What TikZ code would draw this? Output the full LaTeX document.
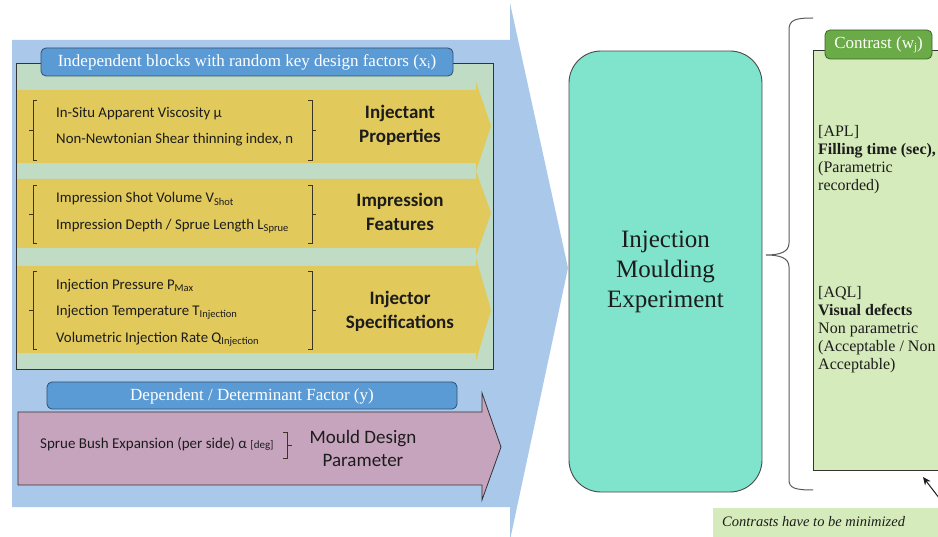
\documentclass[tikz,border=0pt]{standalone}
\usepackage{fontspec}
\setmainfont{Liberation Serif}
\newfontfamily\serifbody{Liberation Serif}
\newfontfamily\sansbody{Carlito}
\usetikzlibrary{arrows.meta}

\definecolor{bigblue}{HTML}{A9C8EA}
\definecolor{sage}{HTML}{C0DCC4}
\definecolor{ochre}{HTML}{E1C95C}
\definecolor{tabblue}{HTML}{5B9BD5}
\definecolor{tabedge}{HTML}{2F4F6F}
\definecolor{mauve}{HTML}{C6A4BE}
\definecolor{teal}{HTML}{80E4CC}
\definecolor{lime}{HTML}{D6EBBB}
\definecolor{leaf}{HTML}{6AAA47}
\definecolor{leafedge}{HTML}{3A6425}
\definecolor{ink}{HTML}{1C1C1C}
\definecolor{bracketink}{HTML}{3B3522}

\newcommand\setfs[2]{\fontsize{#1}{#2}\selectfont}
% lowered index in a chosen size
\newcommand\lowsub[2]{\raisebox{-0.3ex}{\fontsize{#1}{#1}\selectfont #2}}

\tikzset{
  edgeline/.style={draw=ink!90, line width=0.8pt},
  tabbox/.style={rounded corners=5pt, fill=tabblue, draw=tabedge, line width=0.8pt},
  tabtext/.style={text=white, font=\serifbody\setfs{17}{19}, inner sep=0pt},
  rowtext/.style={anchor=west, inner sep=0pt, text=ink, font=\sansbody\setfs{14.8}{16}},
  rowlabel/.style={align=center, inner sep=0pt, text=ink, font=\sansbody\bfseries\setfs{19}{24}},
  bracket/.style={draw=bracketink, line width=0.7pt},
  resulttext/.style={anchor=north west, align=left, inner sep=0pt, text=ink, font=\serifbody\setfs{16}{18}},
}

\begin{document}
\begin{tikzpicture}[x=1pt, y=-1pt]
\useasboundingbox (0,0) rectangle (938,537);

% big background arrow
\fill[bigblue] (12,40) -- (510,40) -- (510,3) -- (568,268) -- (510,540)
  -- (510,507) -- (12,507) -- cycle;

% panel of independent factors
\fill[sage] (16,63) rectangle (493,369);

% three factor arrows
\fill[ochre] (16,90) -- (476,90) -- (476,82) -- (491,126) -- (476,171) -- (476,163) -- (16,163) -- cycle;
\fill[ochre] (16,179) -- (476,179) -- (476,171) -- (491,213) -- (476,256) -- (476,248) -- (16,248) -- cycle;
\fill[ochre] (16,266) -- (476,266) -- (476,258) -- (491,310) -- (476,361) -- (476,353) -- (16,353) -- cycle;

\draw[edgeline] (16,63) rectangle (493,369);

% row 1
\draw[bracket] (37,100) -- (33,100) -- (33,160) -- (37,160) (33,130) -- (29,130);
\draw[bracket] (308,100) -- (312,100) -- (312,160) -- (308,160) (312,130) -- (316,130);
\node[rowtext] (r1a) at (56,114) {In-Situ Apparent Viscosity µ};
\node[rowtext] (r1b) at (56,140) {Non-Newtonian Shear thinning index, n};
\node[rowlabel] (r1l) at (400,125) {Injectant\\Properties};

% row 2
\draw[bracket] (37,185) -- (33,185) -- (33,243) -- (37,243) (33,214) -- (29,214);
\draw[bracket] (308,185) -- (312,185) -- (312,243) -- (308,243) (312,214) -- (316,214);
\node[rowtext] (r2a) at (56,199) {Impression Shot Volume V\lowsub{10.5}{Shot}};
\node[rowtext] (r2b) at (56,226) {Impression Depth / Sprue Length L\lowsub{10.5}{Sprue}};
\node[rowlabel] (r2l) at (400,212) {Impression\\Features};

% row 3
\draw[bracket] (37,271) -- (33,271) -- (33,349) -- (37,349) (33,310) -- (29,310);
\draw[bracket] (308,271) -- (312,271) -- (312,349) -- (308,349) (312,310) -- (316,310);
\node[rowtext] (r3a) at (56,286) {Injection Pressure P\lowsub{10.5}{Max}};
\node[rowtext] (r3b) at (56,312) {Injection Temperature T\lowsub{10.5}{Injection}};
\node[rowtext] (r3c) at (56,339) {Volumetric Injection Rate Q\lowsub{10.5}{Injection}};
\node[rowlabel] (r3l) at (400,311) {Injector\\Specifications};

% title tab of the independent panel
\draw[tabbox] (41,48) rectangle (453,76);
\node[tabtext] (indtitle) at (247,62) {Independent blocks with random key design factors (x\lowsub{11}{i})};

% dependent factor arrow
\draw[edgeline, fill=mauve] (18,412) -- (482,412) -- (482,393) -- (501,447)
  -- (482,500) -- (482,485) -- (18,485) -- cycle;
\draw[tabbox] (47,382) rectangle (457,409);
\node[tabtext] (deptitle) at (252,396) {Dependent / Determinant Factor (y)};
\node[rowtext, font=\sansbody\setfs{15}{16}] (dep) at (40,444) {Sprue Bush Expansion (per side) α {\setfs{11}{12}[deg]}};
\draw[bracket] (283,432) -- (287,432) -- (287,458) -- (283,458) (287,445) -- (292,445);
\node[align=center, inner sep=0pt, text=ink, font=\sansbody\setfs{19}{23}] (mould) at (363,448) {Mould Design\\Parameter};

% experiment block
\node[draw=ink!80, line width=0.9pt, fill=teal, rounded corners=32pt,
  minimum width=193pt, minimum height=441pt, align=center, text=ink,
  font=\serifbody\setfs{25}{30}, inner sep=0pt] (exp) at (665.5,271.5)
  {Injection\\Moulding\\Experiment};

% brace gathering the contrasts
\coordinate (bracetip) at (766,255);
\draw[draw=black!65, line width=1pt]
  (813,18) .. controls (795,18) and (789,20) .. (789,30) -- (789,243)
  .. controls (789,252) and (780,255) .. (bracetip)
  .. controls (780,255) and (789,258) .. (789,267) -- (789,480)
  .. controls (789,488) and (795,490) .. (813,490);

% contrast panel
\draw[edgeline, fill=lime] (945,50) -- (813,50) -- (813,470) -- (945,470);
\draw[rounded corners=5pt, fill=leaf, draw=leafedge, line width=0.8pt] (825,30) rectangle (932,59);
\node[tabtext, text=white!95!lime] (contitle) at (878.5,45) {Contrast (w\lowsub{11}{j})};

\node[resulttext] (apl) at (818,125) {[APL]\\\textbf{Filling time (sec),}\\(Parametric\\recorded)};
\node[resulttext] (aql) at (818,286) {[AQL]\\\textbf{Visual defects}\\Non parametric\\(Acceptable / Non\\Acceptable)};

% note and its pointer
\fill[lime] (713,508) rectangle (940,540);
\node[anchor=west, inner sep=0pt, text=ink, font=\serifbody\itshape\setfs{14.5}{16}] (note) at (722,522) {Contrasts have to be minimized};
\coordinate (notetail) at (946,507);
\coordinate (panelcorner) at (923,477);
\draw[ink, line width=1pt, -{Stealth[length=8pt, width=7pt]}] (notetail) -- (panelcorner);

\end{tikzpicture}
\end{document}
